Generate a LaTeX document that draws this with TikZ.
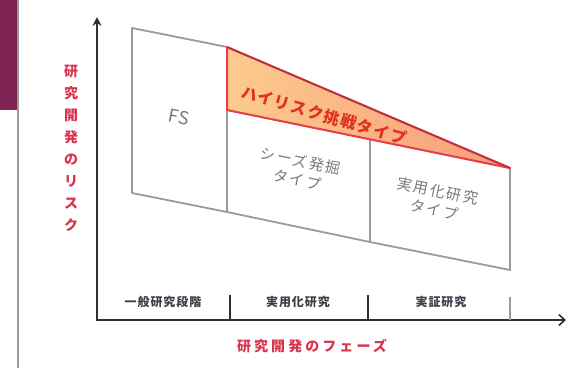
\documentclass[tikz,border=0pt]{standalone}
\usepackage{fontspec}
\setmainfont{Noto Sans CJK JP}
\usetikzlibrary{arrows.meta}
\definecolor{axiscol}{HTML}{2B2F3A}
\definecolor{boxline}{HTML}{9A9A9A}
\definecolor{boxtext}{HTML}{7A7A7A}
\definecolor{riskred}{HTML}{D8344E}
\definecolor{trired}{HTML}{E5404A}
\definecolor{tridark}{HTML}{B8303C}
\definecolor{trifillA}{HTML}{FCCB8E}
\definecolor{trifillB}{HTML}{F89C7A}
\definecolor{tritext}{HTML}{E2321E}
\definecolor{maroon}{HTML}{7E2455}
\definecolor{phasetext}{HTML}{3C3F48}
\tikzset{
  boxedge/.style={draw=boxline, line width=1.8pt, line join=round},
  boxlabel/.style={text=boxtext, font=\fontsize{15}{19}\selectfont\addfontfeature{LetterSpace=12}, align=center, rotate=-11.5, inner sep=0pt},
  phaselabel/.style={text=phasetext, font=\bfseries\fontsize{12}{14}\selectfont\addfontfeature{LetterSpace=8}, inner sep=0pt},
  tickline/.style={draw=axiscol, line width=2pt},
  axisline/.style={draw=axiscol, line width=2.6pt},
}
\begin{document}
\begin{tikzpicture}[x=1pt,y=-1pt]
\useasboundingbox (0,0) rectangle (571,368);
% left decoration
\fill[maroon] (0,0) rectangle (17,110);
\draw[boxline, line width=1.2pt] (18,0) -- (18,368);
% corner coordinates
\coordinate (A) at (132,28);
\coordinate (B) at (227,47);
\coordinate (C) at (510,168);
\coordinate (D) at (227,110);
\coordinate (E) at (370,139);
\coordinate (F) at (132,193);
\coordinate (G) at (227,212);
\coordinate (H) at (370,242);
\coordinate (I) at (510,270);
% boxes
\draw[boxedge] (A) -- (B) -- (G) -- (F) -- cycle;
\draw[boxedge] (D) -- (E) -- (C) -- (I) -- (H) -- (G);
\draw[boxedge] (E) -- (H);
% triangle
\shade[left color=trifillA, right color=trifillB] (B) -- (C) -- (D) -- cycle;
\draw[trired, line width=2pt, line join=round] (B) -- (C) -- (D) -- cycle;
\draw[tridark, line width=1.6pt] (B) -- (C);
\node[text=tritext, font=\bfseries\fontsize{16}{18}\selectfont\addfontfeature{LetterSpace=8}, rotate=-16, inner sep=0pt] (hr) at (324,115) {ハイリスク挑戦タイプ};
% box labels
\node[text=boxtext, font=\fontsize{18}{20}\selectfont, rotate=-11.5, inner sep=0pt] (fs) at (179,117) {FS};
\node[boxlabel] (seeds) at (299,170) {シーズ発掘\\タイプ};
\node[boxlabel] (jitsu) at (436,200) {実用化研究\\タイプ};
% axes
\coordinate (O) at (97,320);
\coordinate (Ytop) at (97,17);
\coordinate (T1) at (230,320);
\coordinate (T2) at (368,320);
\coordinate (T3) at (510,320);
\coordinate (Xend) at (566,320);
\draw[axisline, -{Stealth[length=9pt,width=9pt]}] (O) -- (Ytop);
\draw[axisline, line cap=rect] (O) -- (T3);
\draw[draw=axiscol, line width=1.6pt, -{Straight Barb[length=6pt,width=11pt]}] (T3) -- (Xend);
\coordinate (T1u) at (230,295);
\coordinate (T2u) at (368,295);
\coordinate (T3u) at (510,297);
\draw[tickline] (T1) -- (T1u);
\draw[tickline] (T2) -- (T2u);
\draw[draw=boxline, line width=2pt] (T3) -- (T3u);
% phase labels
\node[phaselabel] (p1) at (163,302) {一般研究段階};
\node[phaselabel] (p2) at (298,302) {実用化研究};
\node[phaselabel] (p3) at (441,302) {実証研究};
% axis titles
\node[text=riskred, font=\bfseries\fontsize{14}{22}\selectfont, align=center, inner sep=0pt] (ylab) at (71,148) {研\\究\\開\\発\\の\\リ\\ス\\ク};
\node[text=riskred, font=\bfseries\fontsize{14}{16}\selectfont\addfontfeature{LetterSpace=22}, inner sep=0pt] (xlab) at (312,346) {研究開発のフェーズ};
\end{tikzpicture}
\end{document}
